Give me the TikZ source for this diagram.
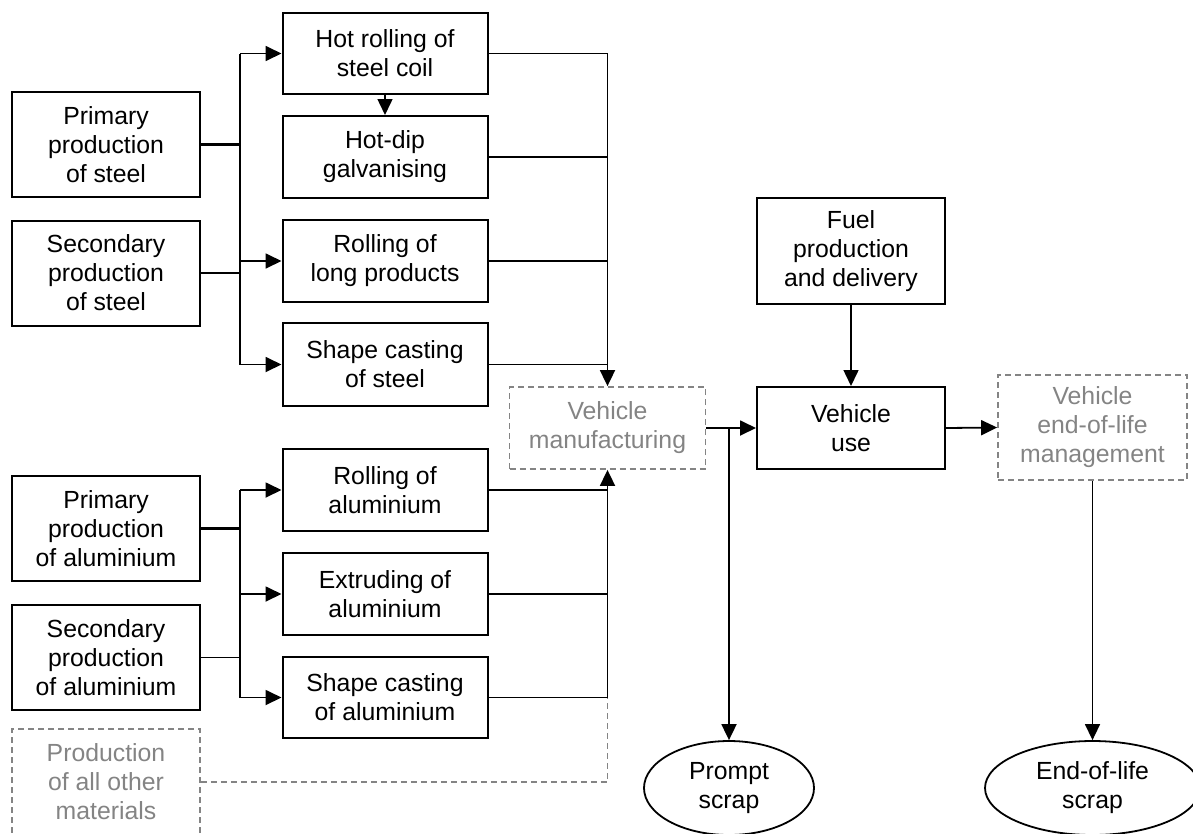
\documentclass[tikz,border=0pt]{standalone}
\usepackage{fontspec}
\setmainfont{Liberation Sans}
\usetikzlibrary{shapes.geometric,arrows.meta}
\definecolor{dgray}{RGB}{132,132,132}
\begin{document}
\begin{tikzpicture}[x=1pt,y=-1pt,
  every node/.style={font=\fontsize{24.8}{29}\selectfont, align=center, inner sep=0pt},
  proc/.style={draw, line width=2pt, minimum width=205, minimum height=82},
  src/.style={draw, line width=2pt, minimum width=188, minimum height=105},
  gbox/.style={draw=dgray, text=dgray, dash pattern=on 6pt off 4pt, line width=1.8pt},
  scrap/.style={draw, ellipse, line width=1.8pt},
  conn/.style={line width=1.8pt},
  thinconn/.style={line width=1.5pt},
  thickconn/.style={line width=2.2pt},
  arr/.style={line width=1.8pt, -{Triangle[length=16pt,width=15pt]}},
  thinarr/.style={line width=1.5pt, -{Triangle[length=16pt,width=15pt]}},
  gconn/.style={draw=dgray, dash pattern=on 6pt off 4pt, line width=1.8pt}
]
\useasboundingbox (0,0) rectangle (1193,833);

% sources
\node[src] (ps) at (106,144.5) {Primary\\production\\of steel};
\node[src] (ss) at (106,273) {Secondary\\production\\of steel};
\node[src] (pa) at (106,528.5) {Primary\\production\\of aluminium};
\node[src] (sa) at (106,657.5) {Secondary\\production\\of aluminium};
\node[gbox, minimum width=188, minimum height=106] (oth) at (106,782) {Production\\of all other\\materials};

% processes
\node[proc, minimum height=81] (hr) at (385,53.5) {Hot rolling of\\steel coil};
\node[proc] (hd) at (385,157) {Hot-dip\\galvanising};
\node[proc] (rl) at (385,261) {Rolling of\\long products};
\node[proc, minimum height=83] (scs) at (385,364.5) {Shape casting\\of steel};
\node[proc] (ra) at (385,490) {Rolling of\\aluminium};
\node[proc] (ea) at (385,594) {Extruding of\\aluminium};
\node[proc, minimum height=81] (sca) at (385,697.5) {Shape casting\\of aluminium};

% vehicle chain
\node[gbox, minimum width=196, minimum height=82] (vm) at (607.5,428) {Vehicle\\manufacturing};
\node[draw, line width=2pt, minimum width=188, minimum height=82] (use) at (851,428) {Vehicle\\use};
\node[draw, line width=2pt, minimum width=188, minimum height=106] (fuel) at (851,251) {Fuel\\production\\and delivery};
\node[gbox, minimum width=189, minimum height=105] (eol) at (1092.5,427.5) {Vehicle\\end-of-life\\management};
\node[scrap, minimum width=170, minimum height=94] (prompt) at (729,788) {Prompt\\scrap};
\node[scrap, minimum width=215, minimum height=94] (eols) at (1092.5,788) {End-of-life\\scrap};

\coordinate (lb) at (240,0);

% steel left bus
\draw[thickconn] (ps.east) -- (ps.east -| lb);
\draw[thinconn] (ss.east) -- (ss.east -| lb);
\draw[conn] (hr.west -| lb) -- (scs.west -| lb);
\draw[arr] (hr.west -| lb) -- (hr.west);
\draw[arr] (rl.west -| lb) -- (rl.west);
\draw[arr] (scs.west -| lb) -- (scs.west);
\draw[thinarr] (hr.south) -- (hd.north);

% aluminium left bus
\draw[thickconn] (pa.east) -- (pa.east -| lb);
\draw[thinconn] (sa.east) -- (sa.east -| lb);
\draw[conn] (ra.west -| lb) -- (sca.west -| lb);
\draw[arr] (ra.west -| lb) -- (ra.west);
\draw[arr] (ea.west -| lb) -- (ea.west);
\draw[arr] (sca.west -| lb) -- (sca.west);

% steel right bus
\draw[thinconn] (hr.east) -- (hr.east -| vm.north);
\draw[thinconn] (hd.east) -- (hd.east -| vm.north);
\draw[thickconn] (rl.east) -- (rl.east -| vm.north);
\draw[thinconn] (scs.east) -- (scs.east -| vm.north);
\draw[arr] (hr.east -| vm.north) -- (vm.north);

% aluminium right bus
\draw[thinconn] (ra.east) -- (ra.east -| vm.south);
\draw[thinconn] (ea.east) -- (ea.east -| vm.south);
\draw[thinconn] (sca.east) -- (sca.east -| vm.south);
\draw[arr] (sca.east -| vm.south) -- (vm.south);

% other materials
\draw[gconn] (oth.east) -| (sca.east -| vm.south);

% vehicle chain
\draw[arr] (vm.east) -- (use.west);
\draw[arr] (vm.east -| prompt.north) -- (prompt.north);
\draw[thinarr] (fuel.south) -- (use.north);
\draw[arr] (use.east) -- (eol.west);
\draw[thinarr] (eol.south) -- (eols.north);
\end{tikzpicture}
\end{document}
